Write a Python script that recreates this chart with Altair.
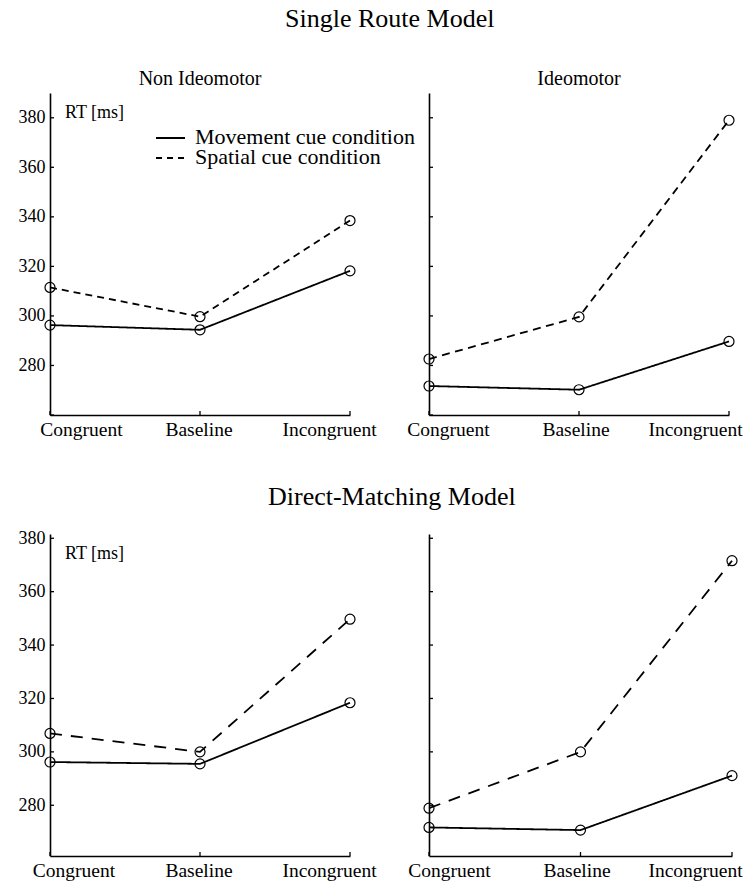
import altair as alt
import pandas as pd

FONT = "Liberation Serif"

# Experimental conditions along the x axis and the two cue conditions
conditions = ["Congruent", "Baseline", "Incongruent"]
cues = ["Movement cue condition", "Spatial cue condition"]

# Reaction times (ms) per model / instruction group / cue condition
single_non_movement = [296.3, 294.4, 318.2]
single_non_spatial = [311.5, 299.7, 338.5]
single_ideo_movement = [271.7, 270.2, 289.7]
single_ideo_spatial = [282.6, 299.6, 379.0]

direct_non_movement = [296.2, 295.5, 318.4]
direct_non_spatial = [306.9, 300.0, 349.7]
direct_ideo_movement = [271.7, 270.7, 291.1]
direct_ideo_spatial = [278.9, 300.0, 371.6]

# Tick values on the RT axis
single_ticks = [260, 280, 300, 320, 340, 360, 380]
direct_ticks = [280, 300, 320, 340, 360, 380]
single_domain = [260, 390]
direct_domain = [261, 381.6]

PANEL_H = 322


def frame(movement, spatial):
    return pd.DataFrame({
        "condition": conditions * 2,
        "cue": [cues[0]] * 3 + [cues[1]] * 3,
        "rt": movement + spatial,
    })


def label_offset(c_off, b_off, i_off):
    return {
        "condition": [
            {"test": "datum.value === 'Congruent'", "value": c_off},
            {"test": "datum.value === 'Incongruent'", "value": i_off},
        ],
        "value": b_off,
    }


def panel(df, domain, ticks, width, offsets, dash, show_y_labels,
          title=None, extras=()):
    x_scale = alt.Scale(domain=conditions, type="point", padding=0)
    y_scale = alt.Scale(domain=domain, nice=False, zero=False)
    x_axis = alt.Axis(
        title=None, ticks=False, tickSize=0, labelAngle=0,
        labelFontSize=19.5, labelPadding=5,
        labelOffset=label_offset(*offsets),
    )
    y_axis = alt.Axis(
        title=None, ticks=False, tickSize=0, values=ticks,
        labels=show_y_labels, labelFontSize=18, labelPadding=5,
        labelExpr="datum.value == 260 ? '' : datum.label",
    )
    x = alt.X("condition:N", scale=x_scale, axis=x_axis, sort=conditions)

    lines = alt.Chart(df).mark_line(color="black", strokeWidth=1.8).encode(
        x=x,
        y=alt.Y("rt:Q", scale=y_scale, axis=y_axis),
        strokeDash=alt.StrokeDash(
            "cue:N",
            scale=alt.Scale(domain=cues, range=[[1, 0], dash]),
            legend=None,
        ),
    )
    points = alt.Chart(df).mark_point(
        shape="circle", filled=False, size=100, color="black",
        strokeWidth=1.2, opacity=1,
    ).encode(x=x, y=alt.Y("rt:Q", scale=y_scale, axis=y_axis))

    # inward-pointing tick marks
    yticks = alt.Chart(pd.DataFrame({"v": ticks})).mark_rule(
        color="black", strokeWidth=1.3
    ).encode(
        y=alt.Y("v:Q", scale=y_scale, axis=y_axis),
        x=alt.value(0), x2=alt.value(4),
    )
    xticks = alt.Chart(pd.DataFrame({"condition": conditions})).mark_rule(
        color="black", strokeWidth=1.3
    ).encode(x=x, y=alt.value(PANEL_H), y2=alt.value(PANEL_H - 4))

    layer = alt.layer(lines, points, yticks, xticks, *extras)
    props = dict(width=width, height=PANEL_H)
    if title is not None:
        props["title"] = title
    return layer.properties(**props)


def rt_label():
    return alt.Chart(pd.DataFrame({"t": ["RT [ms]"]})).mark_text(
        align="left", baseline="alphabetic", font=FONT, fontSize=18,
        color="black",
    ).encode(text="t:N", x=alt.value(15), y=alt.value(25))


def legend_entry(i, dash, y_line, y_text):
    d = pd.DataFrame({"cue": [cues[i]]})
    line = alt.Chart(d).mark_rule(
        color="black", strokeWidth=1.8, strokeDash=dash
    ).encode(x=alt.value(106), x2=alt.value(135), y=alt.value(y_line))
    text = alt.Chart(d).mark_text(
        align="left", baseline="alphabetic", font=FONT, fontSize=22,
        color="black",
    ).encode(text="cue:N", x=alt.value(145), y=alt.value(y_text))
    return [line, text]


panel_title = dict(font=FONT, fontSize=20, fontWeight="normal",
                   color="black", anchor="middle", offset=4)

top_left = panel(
    frame(single_non_movement, single_non_spatial), single_domain,
    single_ticks, 300, (31, -1.5, -21), [7, 5], True,
    title=alt.TitleParams("Non Ideomotor", **panel_title),
    extras=[rt_label()] + legend_entry(0, [1, 0], 45, 51)
    + legend_entry(1, [6, 5], 65, 71),
)
top_right = panel(
    frame(single_ideo_movement, single_ideo_spatial), single_domain,
    single_ticks, 300, (19, -3.5, -34), [8, 5.5], False,
    title=alt.TitleParams("Ideomotor", **panel_title),
)
bottom_left = panel(
    frame(direct_non_movement, direct_non_spatial), direct_domain,
    direct_ticks, 300, (23.5, -1.5, -21), [12, 9], True,
    title=alt.TitleParams(
        "Direct-Matching Model", font=FONT, fontSize=26,
        fontWeight="normal", color="black", anchor="start",
        frame="group", dx=218, offset=19,
    ),
    extras=[rt_label()],
)
bottom_right = panel(
    frame(direct_ideo_movement, direct_ideo_spatial), direct_domain,
    direct_ticks, 303, (20, -4, -37), [12, 9], False,
)

chart = alt.concat(
    top_left, top_right, bottom_left, bottom_right,
    columns=2, spacing={"row": 119, "column": 79}, bounds="flush",
    title=alt.TitleParams(
        "Single Route Model", font=FONT, fontSize=26, fontWeight="normal",
        color="black", anchor="start", frame="group", dx=235, offset=37,
    ),
).resolve_scale(
    x="independent", y="independent", strokeDash="independent"
).properties(
    padding={"left": 18, "top": 6, "right": 5, "bottom": 5},
    background="white",
).configure_view(stroke=None).configure_axis(
    domainColor="black", domainWidth=1.6, labelColor="black",
    labelFont=FONT, grid=False,
)

chart.save("out.html", embed_options={"renderer": "svg", "actions": False})
